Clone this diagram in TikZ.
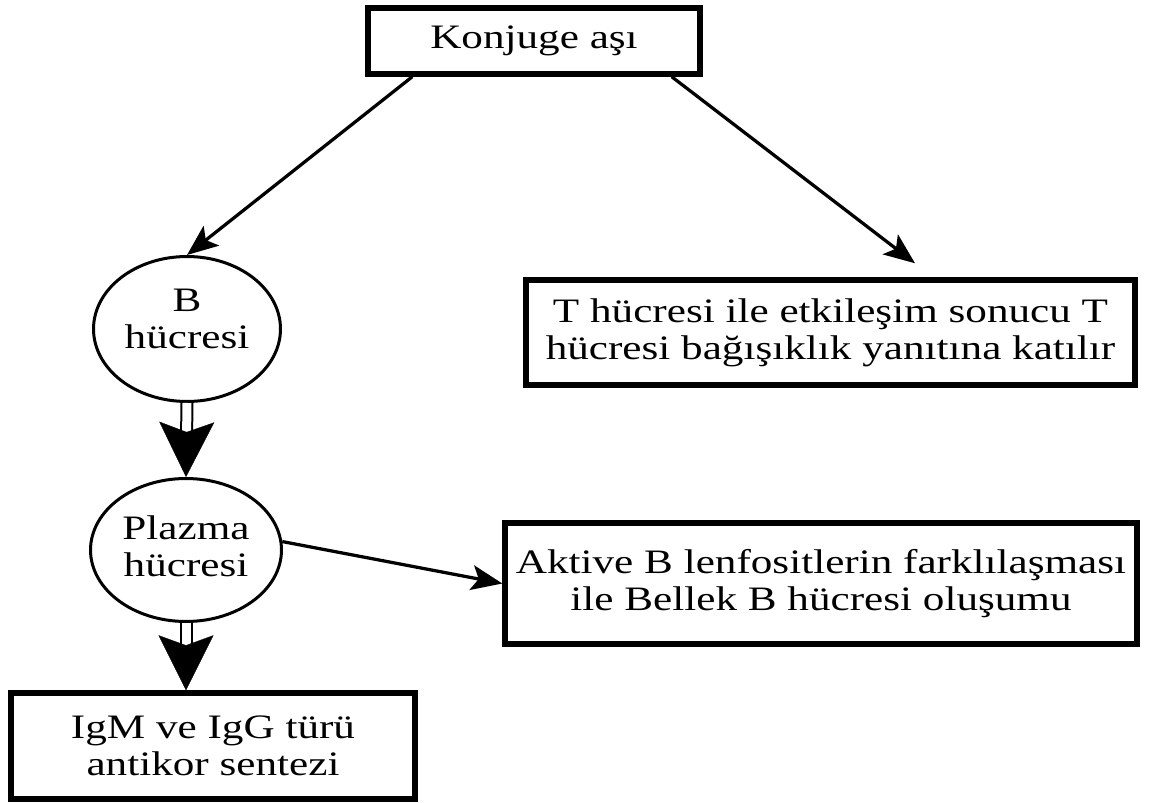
\documentclass[tikz,border=0pt]{standalone}
\usepackage{fontspec}
\setmainfont{Liberation Serif}[FakeStretch=1.26]
\usetikzlibrary{arrows.meta,shapes.geometric}
\begin{document}
\begin{tikzpicture}[x=0.02cm, y=-0.02cm,
    every node/.style={font=\fontsize{19.5pt}{21pt}\selectfont, align=center, inner sep=0pt},
    frame/.style={draw, rectangle, line width=0.11cm},
    cell/.style={draw, ellipse, line width=0.06cm},
    arr/.style={line width=0.065cm, -{Stealth[length=0.62cm, width=0.5cm, inset=0.14cm]}},
    twin/.style={double, line width=0.04cm, double distance=0.18cm, shorten >=0.9cm},
    bigtip/.style={white, line width=0.2pt, shorten <=0.1cm,
        -{Stealth[color=black, fill=black, length=1.1cm, width=1.1cm, inset=0.2cm]}}]
    \useasboundingbox (0,0) rectangle (1149,803);

    \node[frame, minimum width=6.64cm, minimum height=1.32cm] (vaccine) at (534,41) {Konjuge aşı};
    \node[frame, minimum width=12.18cm, minimum height=2.1cm] (tcell) at (830.5,332.5)
        {T hücresi ile etkileşim sonucu T\\hücresi bağışıklık yanıtına katılır};
    \node[cell, minimum width=3.74cm, minimum height=2.9cm, text depth=0.4cm] (bcell) at (187,329) {B\\hücresi};
    \node[cell, minimum width=3.82cm, minimum height=2.86cm, text depth=0.16cm] (plasma) at (186,550) {Plazma\\hücresi};
    \node[frame, minimum width=12.64cm, minimum height=2.42cm] (memory) at (821,583.5)
        {Aktive B lenfositlerin farklılaşması\\ile Bellek B hücresi oluşumu};
    \node[frame, minimum width=8.08cm, minimum height=2.12cm] (antibody) at (213,746)
        {IgM ve IgG türü\\antikor sentezi};

    \draw[arr] ([xshift=0.94cm]vaccine.south west) -- (bcell.north);
    \draw[arr] ([xshift=-0.62cm]vaccine.south east) -- ([xshift=1.69cm, yshift=0.28cm]tcell.north);

    \draw[twin] (bcell.south) -- (plasma.north);
    \draw[bigtip] (bcell.south) -- (plasma.north);

    \draw[arr] (plasma.5) -- (memory.west);

    \draw[twin] (plasma.south) -- (plasma.south |- antibody.north);
    \draw[bigtip] (plasma.south) -- (plasma.south |- antibody.north);
\end{tikzpicture}
\end{document}
